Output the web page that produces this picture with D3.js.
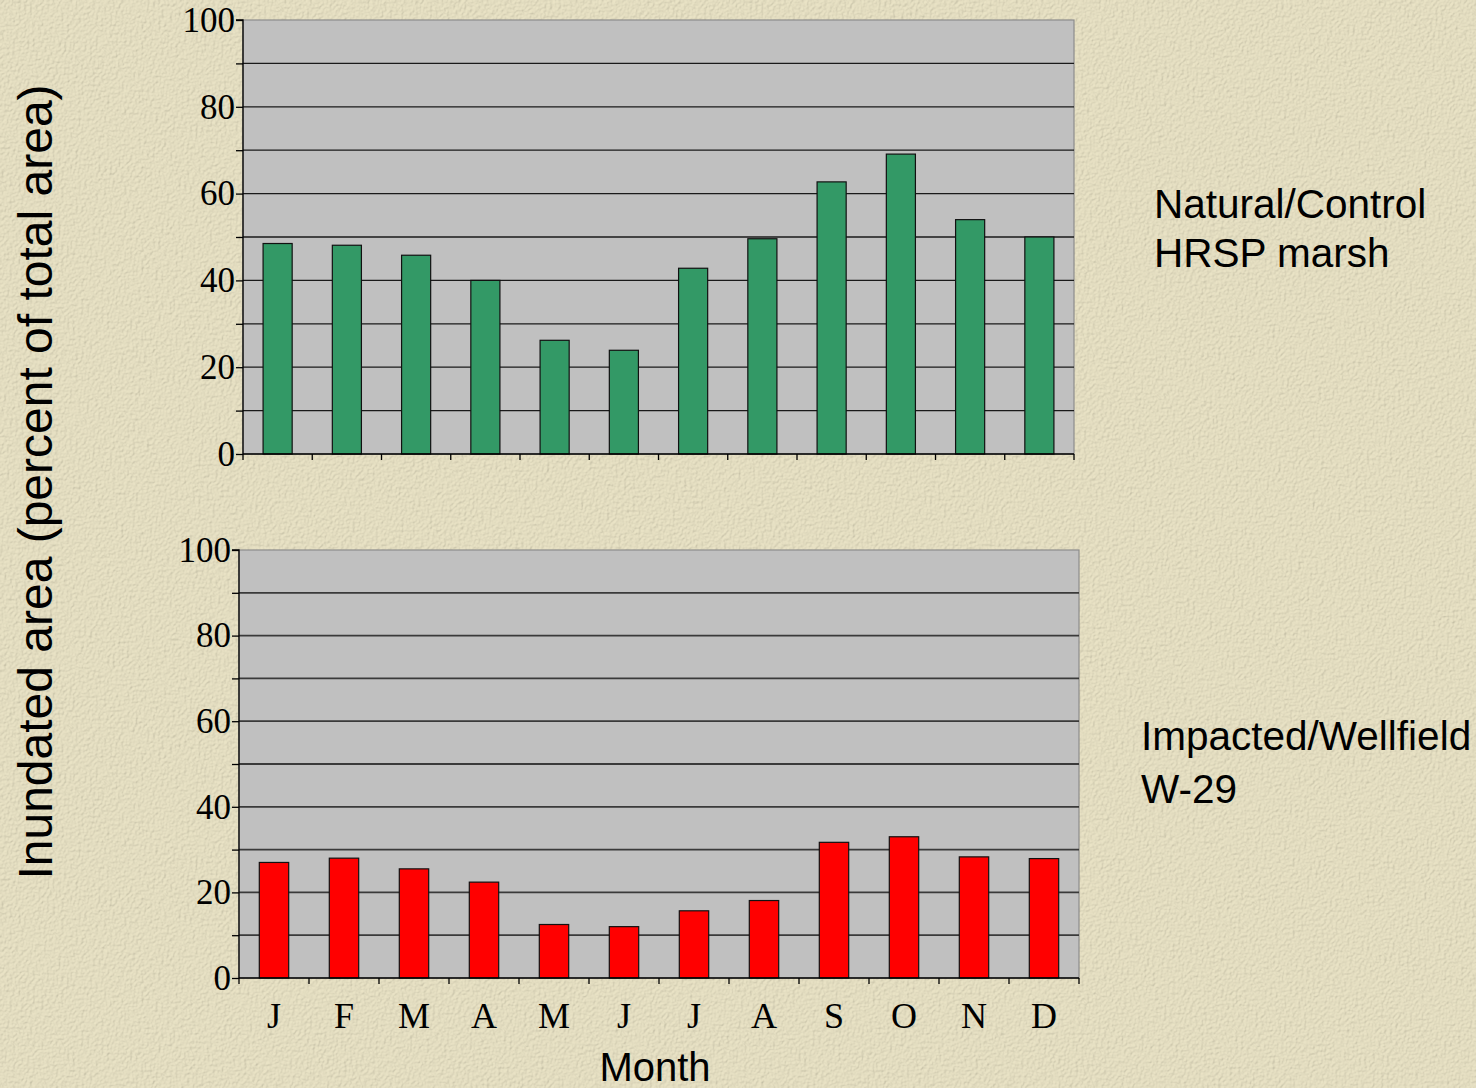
<!DOCTYPE html>
<html>
<head>
<meta charset="utf-8">
<script src="https://cdn.jsdelivr.net/npm/d3@7"></script>
<style>
  body { margin: 0; background: #e8e1c3; }
  svg { display: block; }
</style>
</head>
<body>
<div id="chart"></div>
<script>
// data
const months = ["J", "F", "M", "A", "M", "J", "J", "A", "S", "O", "N", "D"];
const natural = [48.5, 48.1, 45.8, 40.0, 26.2, 23.9, 42.8, 49.6, 62.7, 69.1, 54.0, 50.0];
const impacted = [27.0, 28.0, 25.5, 22.4, 12.5, 12.0, 15.7, 18.1, 31.7, 33.0, 28.3, 27.9];
const yTicks = [0, 10, 20, 30, 40, 50, 60, 70, 80, 90, 100];
const yLabels = [0, 20, 40, 60, 80, 100];

const W = 1476, H = 1088;

const svg = d3.select("#chart")
  .append("svg")
  .attr("width", W)
  .attr("height", H);

// textured beige background
const defs = svg.append("defs");
const f = defs.append("filter").attr("id", "paper").attr("x", 0).attr("y", 0).attr("width", "100%").attr("height", "100%");
f.append("feTurbulence").attr("type", "fractalNoise").attr("baseFrequency", 0.35).attr("numOctaves", 3).attr("seed", 4).attr("result", "noise");
f.append("feDiffuseLighting").attr("in", "noise").attr("lighting-color", "#ece6c9").attr("surfaceScale", 1.2).attr("result", "lit")
  .append("feDistantLight").attr("azimuth", 45).attr("elevation", 62);
f.append("feComposite").attr("in", "lit").attr("in2", "SourceGraphic").attr("operator", "in");

svg.append("rect").attr("width", W).attr("height", H).attr("fill", "#e8e1c3");
svg.append("rect").attr("width", W).attr("height", H).attr("fill", "#e8e1c3").attr("filter", "url(#paper)").attr("opacity", 0.55);

function drawPanel(values, color, box, gridColor, gridWidth) {
  const x = d3.scaleBand().domain(d3.range(months.length)).range([box.left, box.right]).paddingInner(0.58).paddingOuter(0.29);
  const xEdge = d3.scaleLinear().domain([0, months.length]).range([box.left, box.right]);
  const y = d3.scaleLinear().domain([0, 100]).range([box.bottom, box.top]);

  const g = svg.append("g");

  g.append("rect")
    .attr("x", box.left).attr("y", box.top)
    .attr("width", box.right - box.left).attr("height", box.bottom - box.top)
    .attr("fill", "#c0c0c0")
    .attr("stroke", "#8c8c8c").attr("stroke-width", 1.2);

  // gridlines
  g.selectAll(".grid").data(yTicks.filter(t => t > 0 && t < 100)).join("line")
    .attr("x1", box.left).attr("x2", box.right)
    .attr("y1", d => y(d)).attr("y2", d => y(d))
    .attr("stroke", gridColor).attr("stroke-width", gridWidth);

  // bars
  g.selectAll(".bar").data(values).join("rect")
    .attr("x", (d, i) => x(i))
    .attr("y", d => y(d))
    .attr("width", x.bandwidth())
    .attr("height", d => y(0) - y(d))
    .attr("fill", color)
    .attr("stroke", "#111").attr("stroke-width", 1.2);

  // y axis
  const yAxis = d3.axisLeft(y).tickValues(yTicks).tickSize(7).tickFormat(d => yLabels.includes(d) ? d : "");
  const ya = g.append("g").attr("transform", `translate(${box.left},0)`).call(yAxis);
  ya.select(".domain").attr("stroke", "#000").attr("stroke-width", 1.3).attr("d", `M-7,${box.top}H0V${box.bottom}`);
  ya.selectAll(".tick line").attr("stroke", "#000").attr("stroke-width", 1.3);
  ya.selectAll("text")
    .attr("x", -8)
    .attr("dy", "0.32em")
    .attr("fill", "#000")
    .style("font-family", "'Liberation Serif', 'Times New Roman', serif")
    .style("font-size", "35px");

  // x axis (ticks on category boundaries)
  const xa = g.append("g").attr("transform", `translate(0,${box.bottom})`);
  xa.append("line").attr("x1", box.left).attr("x2", box.right).attr("stroke", "#000").attr("stroke-width", 1.3);
  xa.selectAll(".xt").data(d3.range(months.length + 1)).join("line")
    .attr("x1", d => xEdge(d)).attr("x2", d => xEdge(d))
    .attr("y1", 0).attr("y2", 6)
    .attr("stroke", "#000").attr("stroke-width", 1.3);

  return { x, y };
}

const upper = drawPanel(natural, "#339966", { left: 243, right: 1074, top: 20, bottom: 454 }, "#1a1a1a", 1.3);
const lower = drawPanel(impacted, "#ff0000", { left: 239, right: 1079, top: 550, bottom: 978 }, "#3a3a3a", 1.8);

// month labels below the lower panel
svg.append("g").selectAll("text").data(months).join("text")
  .attr("x", (d, i) => lower.x(i) + lower.x.bandwidth() / 2)
  .attr("y", 1028)
  .attr("text-anchor", "middle")
  .style("font-family", "'Liberation Serif', 'Times New Roman', serif")
  .style("font-size", "36px")
  .text(d => d);

const sans = "'Liberation Sans', Arial, sans-serif";

svg.append("text")
  .attr("x", 655).attr("y", 1081)
  .attr("text-anchor", "middle")
  .style("font-family", sans).style("font-size", "40px")
  .text("Month");

svg.append("text")
  .attr("transform", "translate(52,482) rotate(-90)")
  .attr("text-anchor", "middle")
  .style("font-family", sans).style("font-size", "48px")
  .text("Inundated area (percent of total area)");

const labelA = svg.append("text").style("font-family", sans).style("font-size", "40.5px");
labelA.append("tspan").attr("x", 1154).attr("y", 218).text("Natural/Control");
labelA.append("tspan").attr("x", 1154).attr("y", 267).text("HRSP marsh");

const labelB = svg.append("text").style("font-family", sans).style("font-size", "40.5px");
labelB.append("tspan").attr("x", 1141).attr("y", 750).text("Impacted/Wellfield");
labelB.append("tspan").attr("x", 1141).attr("y", 803).text("W-29");
</script>
</body>
</html>
